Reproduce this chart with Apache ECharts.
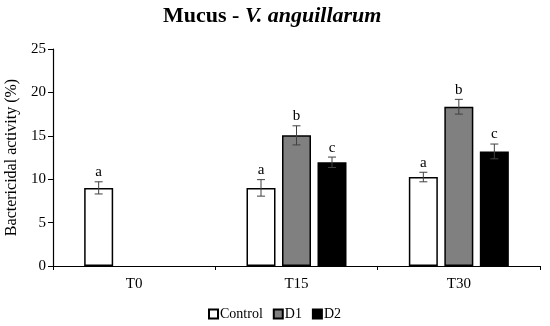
<!DOCTYPE html>
<html><head><meta charset="utf-8">
<script src="https://cdn.jsdelivr.net/npm/echarts@6/dist/echarts.min.js"></script>
<style>html,body{margin:0;padding:0;background:#fff}#c{width:550px;height:326px}</style>
</head><body><div id="c"></div>
<script>
const categories = ['T0', 'T15', 'T30'];
const seriesNames = ['Control', 'D1', 'D2'];
const controlValues = [9.0, 9.0, 10.25];
const d1Values = [null, 15.05, 18.35];
const d2Values = [null, 11.95, 13.2];
const controlErr = [0.7, 0.95, 0.55];
const d1Err = [null, 1.1, 0.85];
const d2Err = [null, 0.6, 0.85];
const controlLetters = ['a', 'a', 'a'];
const d1Letters = [null, 'b', 'b'];
const d2Letters = [null, 'c', 'c'];
const yTicks = [0, 5, 10, 15, 20, 25];

const FONT = '"Liberation Serif", "Times New Roman", serif';
const BAR_W = 29, GAP = 6.5;
const colors = ['#ffffff', '#808080', '#000000'];
const vals = [controlValues, d1Values, d2Values];
const errs = [controlErr, d1Err, d2Err];
const letters = [controlLetters, d1Letters, d2Letters];

const chart = echarts.init(document.getElementById('c'));
const series = [];
seriesNames.forEach((name, i) => {
  series.push({
    name, type: 'bar', data: vals[i], barWidth: BAR_W, barGap: (GAP / BAR_W * 100) + '%',
    itemStyle: { color: colors[i], borderColor: '#000', borderWidth: 1.5 },
    emphasis: { disabled: true }
  });
});
seriesNames.forEach((name, i) => {
  const offset = (i - 1) * (BAR_W + GAP);
  const data = [];
  categories.forEach((c, k) => {
    if (vals[i][k] != null) data.push([k, vals[i][k], errs[i][k], letters[i][k]]);
  });
  series.push({
    type: 'custom', z: 10, silent: true,
    data,
    encode: { x: 0, y: 1 },
    renderItem: function (params, api) {
      const x = api.coord([api.value(0), 0])[0] + offset;
      const v = api.value(1), e = api.value(2);
      const yTop = api.coord([0, v + e])[1];
      const yBot = api.coord([0, v - e])[1];
      const cap = 4;
      const st = { stroke: '#404040', lineWidth: 1 };
      return {
        type: 'group', children: [
          { type: 'line', shape: { x1: x, y1: yTop, x2: x, y2: yBot }, style: st },
          { type: 'line', shape: { x1: x - cap, y1: yTop, x2: x + cap, y2: yTop }, style: st },
          { type: 'line', shape: { x1: x - cap, y1: yBot, x2: x + cap, y2: yBot }, style: st },
          { type: 'text', style: { text: data[params.dataIndex][3], x: x, y: yTop - 2, textAlign: 'center', textVerticalAlign: 'bottom', font: '15px ' + FONT, fill: '#000' } }
        ]
      };
    }
  });
});

chart.setOption({
  animation: false,
  title: {
    text: '{a|Mucus - }{b|V. anguillarum}',
    left: 158, top: 0,
    textStyle: {
      rich: {
        a: { fontFamily: FONT, fontWeight: 'bold', fontSize: 22, color: '#000' },
        b: { fontFamily: FONT, fontWeight: 'bold', fontStyle: 'italic', fontSize: 22, color: '#000' }
      }
    }
  },
  legend: {
    data: seriesNames, top: 302, left: 203, icon: 'rect', itemWidth: 9, itemHeight: 9, itemGap: 10,
    textStyle: { fontFamily: FONT, fontSize: 14, color: '#000', padding: [0, 0, 0, -3] }
  },
  grid: { left: 53, right: 10, top: 49, bottom: 60, outerBoundsMode: 'none', containLabel: false },
  xAxis: {
    type: 'category', data: categories,
    axisLine: { lineStyle: { color: '#000', width: 1.2 } },
    axisTick: { show: true, length: 4, lineStyle: { color: '#000' } },
    axisLabel: { fontFamily: FONT, fontSize: 15, color: '#000', margin: 11 }
  },
  yAxis: {
    type: 'value', min: yTicks[0], max: yTicks[yTicks.length - 1], interval: 5,
    name: 'Bactericidal activity (%)', nameLocation: 'middle', nameGap: 27,
    nameTextStyle: { fontFamily: FONT, fontSize: 16, color: '#000' },
    splitLine: { show: false },
    axisLine: { show: true, lineStyle: { color: '#000', width: 1.2 } },
    axisTick: { show: true, length: 5, lineStyle: { color: '#000' } },
    axisLabel: { fontFamily: FONT, fontSize: 15, color: '#000', margin: 7 }
  },
  series
});
</script></body></html>
